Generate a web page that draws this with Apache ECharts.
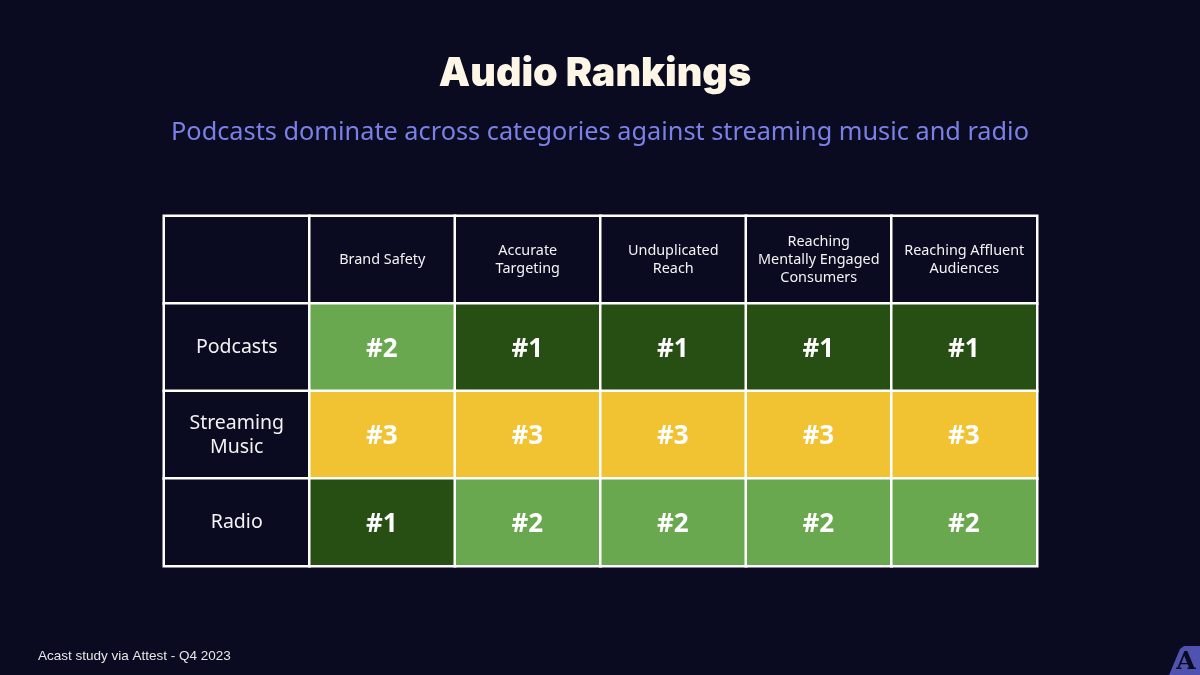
<!DOCTYPE html>
<html>
<head>
<meta charset="utf-8">
<script src="https://cdn.jsdelivr.net/npm/echarts@6/dist/echarts.min.js"></script>
<style>
html,body{margin:0;padding:0;background:#0a0b21;}
#main{width:1200px;height:675px;}
</style>
</head>
<body>
<div id="main"></div>
<script>
var columns = ["", "Brand Safety", "Accurate\nTargeting", "Unduplicated\nReach", "Reaching\nMentally Engaged\nConsumers", "Reaching Affluent\nAudiences"];
var rows = ["", "Podcasts", "Streaming\nMusic", "Radio"];
var podcasts = [2, 1, 1, 1, 1];
var streamingMusic = [3, 3, 3, 3, 3];
var radio = [1, 2, 2, 2, 2];
var rankColors = {1: "#274e13", 2: "#6aa84f", 3: "#f1c232"};
var bgColor = "#0a0b21";
var fontBody = "'Noto Sans', sans-serif";

var rankRows = [podcasts, streamingMusic, radio];
var cells = [];
// header row and first column are plain text cells
columns.forEach(function (name, c) {
    cells.push({
        value: [c, 0, 0],
        itemStyle: {color: bgColor},
        label: {formatter: name, fontSize: 14.4, fontWeight: 400, lineHeight: 18, color: "#f3f3f3", fontFamily: fontBody}
    });
});
rows.forEach(function (name, r) {
    if (r === 0) return;
    cells.push({
        value: [0, r, 0],
        itemStyle: {color: bgColor},
        label: {formatter: name, fontSize: 19.5, fontWeight: 400, lineHeight: 24, offset: [0, 0.5], color: "#f3f3f3", fontFamily: fontBody}
    });
    rankRows[r - 1].forEach(function (rank, c) {
        cells.push({
            value: [c + 1, r, rank],
            itemStyle: {color: rankColors[rank]},
            label: {formatter: "#" + rank, fontSize: 26, fontWeight: 700, offset: [-0.5, 2], color: "#ffffff", fontFamily: fontBody}
        });
    });
});

var myChart = echarts.init(document.getElementById("main"));
myChart.setOption({
    backgroundColor: bgColor,
    animation: false,
    title: [
        {text: "Audio Rankings", left: 595, top: 54, padding: 0, textAlign: "center",
            textStyle: {color: "#fdf5e6", fontSize: 39.5, fontWeight: 900, fontFamily: "Inter, sans-serif"}},
        {text: "Podcasts dominate across categories against streaming music and radio", left: 600, top: 120, padding: 0, textAlign: "center",
            textStyle: {color: "#7b80e6", fontSize: 25.3, fontWeight: 400, fontFamily: fontBody}},
        {text: "Acast study via Attest - Q4 2023", left: 38, top: 649, padding: 0,
            textStyle: {color: "#e6e6e6", fontSize: 13.5, fontWeight: 400, fontFamily: "'Liberation Sans', sans-serif"}}
    ],
    grid: {left: 164, top: 216, width: 873, height: 350},
    xAxis: {type: "category", data: columns, show: false},
    yAxis: {type: "category", data: rows, show: false, inverse: true},
    series: [{
        type: "heatmap",
        data: cells,
        label: {show: true},
        itemStyle: {borderColor: "#ffffff", borderWidth: 2.5},
        emphasis: {disabled: true}
    }],
    graphic: [
        {type: "polygon", shape: {points: [[1169, 675], [1180, 649], [1184, 646], [1200, 646], [1200, 675]]}, style: {fill: "#4f52ae"}},
        {type: "text", style: {x: 1186, y: 662, text: "A", fill: "#0a0b21", font: "bold 25px 'DejaVu Serif', serif", textAlign: "center", textVerticalAlign: "middle"}}
    ]
});
</script>
</body>
</html>
